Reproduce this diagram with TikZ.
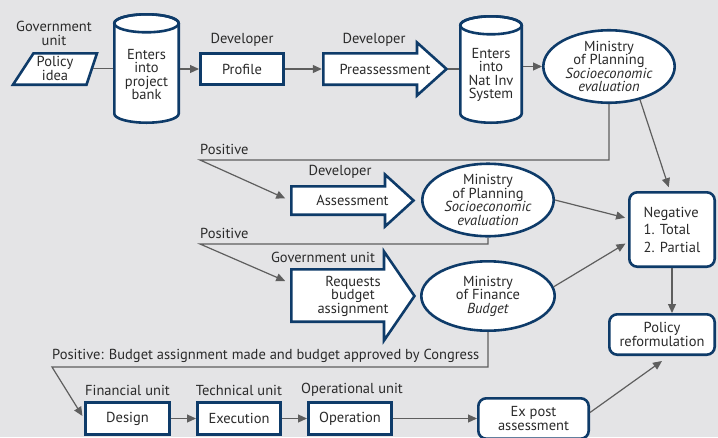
\documentclass[tikz,border=0pt]{standalone}
\usepackage{fontspec}
\setmainfont{PT Sans}
\usetikzlibrary{arrows.meta,shapes.geometric}
\definecolor{bg}{HTML}{E4E4E6}
\definecolor{navy}{HTML}{0E3B69}
\definecolor{lgray}{HTML}{5E5E5E}
\definecolor{txt}{HTML}{2A2A2A}
\tikzset{
  base/.style={font=\fontsize{14.5}{13.6}\selectfont, text=txt, align=center, inner sep=0pt},
  box/.style={base, rectangle, draw=navy, line width=2.6pt, fill=white},
  rbox/.style={box, rounded corners=8pt},
  ell/.style={base, ellipse, draw=navy, line width=2.6pt, fill=white},
  shapeline/.style={draw=navy, line width=2.6pt, fill=white, line join=miter},
  conn/.style={draw=lgray, line width=1.2pt},
  arr/.style={conn, -{Triangle[length=9pt,width=8pt]}},
  lbl/.style={base}
}
\begin{document}
\begin{tikzpicture}[x=1pt,y=1pt]
\fill[bg] (0,0) rectangle (718,-437);
\useasboundingbox (0,0) rectangle (718,-437);

% ---- shapes drawn directly ----
% policy idea parallelogram
\draw[shapeline] (33.5,-53.3) -- (97,-53.3) -- (86.5,-84.7) -- (13,-84.7) -- cycle;
% cylinder 1
\draw[shapeline] (114.3,-23.3) -- (114.3,-113.7)
  arc[start angle=180,end angle=360,x radius=32.2,y radius=9]
  -- (178.7,-23.3) arc[start angle=0,end angle=180,x radius=32.2,y radius=9] -- cycle;
\draw[navy, line width=2.6pt] (146.5,-23.3) ellipse[x radius=32.2,y radius=9];
% cylinder 2
\draw[shapeline] (460.3,-25.3) -- (460.3,-113.7)
  arc[start angle=180,end angle=360,x radius=30.7,y radius=9]
  -- (521.7,-25.3) arc[start angle=0,end angle=180,x radius=30.7,y radius=9] -- cycle;
\draw[navy, line width=2.6pt] (491,-25.3) ellipse[x radius=30.7,y radius=9];
% big arrows
\draw[shapeline] (323.3,-53.3) -- (417,-53.3) -- (417,-42.5) -- (446.5,-69) -- (417,-95.5) -- (417,-84.7) -- (323.3,-84.7) -- cycle;
\draw[shapeline] (291.3,-186.3) -- (385,-186.3) -- (385,-174.5) -- (413.5,-200.5) -- (385,-226.5) -- (385,-214.7) -- (291.3,-214.7) -- cycle;
\draw[shapeline] (291.3,-269.3) -- (384,-269.3) -- (384,-251.5) -- (414.5,-296) -- (384,-340.5) -- (384,-321.7) -- (291.3,-321.7) -- cycle;

% ---- nodes ----
\node[base, minimum width=75pt] (policy) at (55,-68.5) {Policy\\idea};
\node[base, minimum width=67pt] (cyl1) at (146.5,-74.5) {Enters\\into\\project\\bank};
\node[box, minimum width=83.4pt, minimum height=31.4pt] (profile) at (242,-69) {Profile};
\node[base, minimum width=126pt, minimum height=34pt] (pre) at (385,-69) {Preassessment};
\node[base, minimum width=64pt] (cyl2) at (491,-75) {Enters\\into\\Nat Inv\\System};
\node[ell, minimum width=131.4pt, minimum height=64.4pt] (ell1) at (609,-66.5) {Ministry\\of Planning\\\textit{Socioeconomic}\\\textit{evaluation}};
\node[base, minimum width=125pt, minimum height=31pt] (assess) at (352.5,-200.5) {Assessment};
\node[ell, minimum width=131.4pt, minimum height=65.4pt] (ell2) at (488,-200) {Ministry\\of Planning\\\textit{Socioeconomic}\\\textit{evaluation}};
\node[base, minimum width=126pt, minimum height=55pt] (reqs) at (353,-296) {Requests\\budget\\assignment};
\node[ell, minimum width=133.4pt, minimum height=69.4pt] (ell3) at (488,-296) {Ministry\\of Finance\\\textit{Budget}};
\node[rbox, minimum width=85.4pt, minimum height=74.4pt, align=left, font=\fontsize{14.5}{17.5}\selectfont] (neg) at (672,-229.5) {Negative\\1. Total\\2. Partial};
\node[rbox, minimum width=105.4pt, minimum height=40.4pt] (polref) at (662,-334.5) {Policy\\reformulation};
\node[box, minimum width=84.4pt, minimum height=32.4pt] (design) at (127.5,-418.5) {Design};
\node[box, minimum width=83.4pt, minimum height=32.4pt] (exec) at (239,-418.5) {Execution};
\node[box, minimum width=83.4pt, minimum height=32.4pt] (oper) at (350,-418.5) {Operation};
\node[rbox, minimum width=110.4pt, minimum height=40.4pt] (expost) at (533.5,-418.5) {Ex post\\assessment};

% ---- labels ----
\node[lbl] (lgov) at (54,-33.5) {Government\\unit};
\node[lbl] (ldev1) at (242,-40) {Developer};
\node[lbl] (ldev2) at (374,-40) {Developer};
\node[lbl, anchor=west] (lpos1) at (200,-149) {Positive};
\node[lbl] (ldev3) at (340,-172) {Developer};
\node[lbl, anchor=west] (lpos2) at (200,-233) {Positive};
\node[lbl] (lgov2) at (323,-257) {Government unit};
\node[lbl, anchor=west] (lpos3) at (52,-356) {Positive: Budget assignment made and budget approved by Congress};
\node[lbl] (lfin) at (127.5,-390) {Financial unit};
\node[lbl] (ltec) at (239,-390) {Technical unit};
\node[lbl] (lope) at (352,-390) {Operational unit};

% ---- connectors ----
\coordinate (pos1) at (200,-160);
\coordinate (pos2) at (200,-244);
\coordinate (pos3) at (52,-367);
\draw[conn] (policy.east) -- (cyl1.west |- policy.east);
\draw[arr] (cyl1.east |- profile.west) -- (profile.west);
\draw[arr] (profile.east) -- (pre.west);
\draw[conn] (pre.east) -- (cyl2.west |- pre.east);
\draw[arr] (cyl2.east |- ell1.west) -- (ell1.west);
\draw[arr, shorten >=5pt] (ell1.south) -- (ell1.south |- pos1) -- (pos1) -- (assess.west);
\draw[arr, shorten >=4pt] (ell1.-47) -- ([xshift=-2pt]neg.north);
\draw[arr, shorten >=5pt] (ell2.south) -- (ell2.south |- pos2) -- (pos2) -- ([yshift=13pt]reqs.west);
\draw[arr, shorten >=3pt] (ell2.east) -- ([yshift=11pt]neg.west);
\draw[arr, shorten >=3pt] (ell3.8) -- ([yshift=-12.5pt]neg.west);
\draw[arr, shorten >=3pt] (ell3.south) -- (ell3.south |- pos3) -- (pos3) -- (design.west);
\draw[arr] (neg.south) -- (neg.south |- polref.north);
\draw[arr] (design.east) -- (exec.west);
\draw[arr] (exec.east) -- (oper.west);
\draw[arr] (oper.east) -- (expost.west);
\draw[arr] ([yshift=6pt]expost.east) -- ([yshift=-5pt]polref.south);
\end{tikzpicture}
\end{document}
